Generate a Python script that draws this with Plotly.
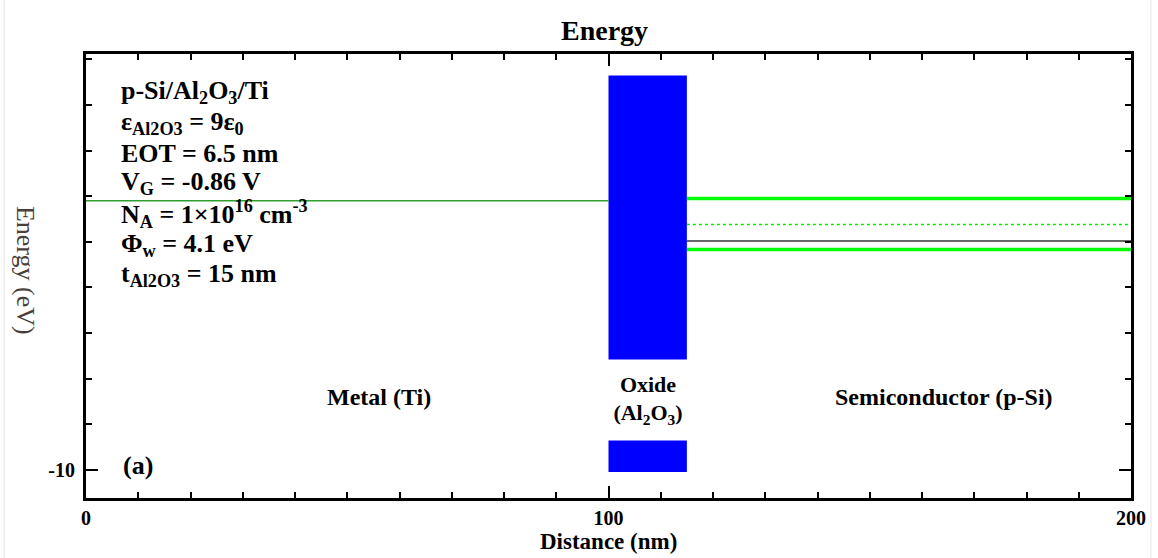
import plotly.graph_objects as go

# Figure and plot-area geometry (pixels)
W, H = 1158, 558
L, R, T, B = 86, 1133, 54, 498

X_RANGE = [0, 200]
Y_RANGE = [-10.62, -0.88]

# Device layers along the distance axis (nm)
metal_x = [0, 100]
oxide_x = [100, 115]
semi_x = [115, 200]

# Energy levels (eV)
metal_ef = -4.1
oxide_ec = -1.35
oxide_ev = -10.05
si_ec = -4.05
si_ei = -4.62
si_ef = -4.98
si_ev = -5.17

# Parameter block text
info_lines = [
    "p-Si/Al<sub>2</sub>O<sub>3</sub>/Ti",
    "ε<sub>Al2O3</sub> = 9ε<sub>0</sub>",
    "EOT = 6.5 nm",
    "V<sub>G</sub> = -0.86 V",
    "N<sub>A</sub> = 1×10<sup>16</sup> cm<sup>-3</sup>",
    "Φ<sub>w</sub> = 4.1 eV",
    "t<sub>Al2O3</sub> = 15 nm",
]

SERIF = "Liberation Serif, Times New Roman, serif"


def px(xp):
    return (xp - L) / (R - L)


def py(yp):
    return (B - yp) / (B - T)


fig = go.Figure()

# Oxide band (conduction to valence band edge)
fig.add_trace(go.Scatter(
    x=[oxide_x[0], oxide_x[1], oxide_x[1], oxide_x[0], oxide_x[0]],
    y=[oxide_ec, oxide_ec, oxide_ev, oxide_ev, oxide_ec],
    mode="lines", fill="toself", fillcolor="#0000ff",
    line=dict(width=0, color="#0000ff"), hoverinfo="skip",
))

# Metal Fermi level
fig.add_trace(go.Scatter(
    x=metal_x, y=[metal_ef, metal_ef], mode="lines",
    line=dict(color="#2e9e2e", width=1.5),
))

# Semiconductor Fermi level
fig.add_trace(go.Scatter(
    x=semi_x, y=[si_ef, si_ef], mode="lines",
    line=dict(color="#333333", width=1.5),
))
# Intrinsic level
fig.add_trace(go.Scatter(
    x=semi_x, y=[si_ei, si_ei], mode="lines",
    line=dict(color="#00ee00", width=1.5, dash="3px,3px"),
))
# Conduction and valence band edges
for lvl in (si_ec, si_ev):
    fig.add_trace(go.Scatter(
        x=semi_x, y=[lvl, lvl], mode="lines",
        line=dict(color="#00ff00", width=3.5),
    ))

annotations = []

# Parameter block
for i, txt in enumerate(info_lines):
    annotations.append(dict(
        text=txt, xref="paper", yref="paper",
        x=px(119), y=py(92 + 30.5 * i), xanchor="left", yanchor="middle",
        showarrow=False, font=dict(family=SERIF, size=26, color="black", weight="bold"),
    ))

# Region labels
label_font = dict(family=SERIF, size=24, color="black", weight="bold")
annotations.append(dict(text="Metal (Ti)", xref="paper", yref="paper",
                        x=px(380), y=py(397), xanchor="center", yanchor="middle",
                        showarrow=False, font=label_font))
annotations.append(dict(text="Semiconductor (p-Si)", xref="paper", yref="paper",
                        x=px(946), y=py(397), xanchor="center", yanchor="middle",
                        showarrow=False, font=label_font))
annotations.append(dict(text="Oxide<br>(Al<sub>2</sub>O<sub>3</sub>)",
                        xref="x", yref="paper",
                        x=sum(oxide_x) / 2, y=py(400), xanchor="center", yanchor="middle",
                        width=86, height=80, bgcolor="white", borderpad=0,
                        showarrow=False, font=dict(family=SERIF, size=22, color="black", weight="bold")))
annotations.append(dict(text="(a)", xref="paper", yref="paper",
                        x=px(121), y=py(465), xanchor="left", yanchor="middle",
                        showarrow=False, font=dict(family=SERIF, size=26, color="black", weight="bold")))

# Titles
annotations.append(dict(text="Energy", xref="paper", yref="paper",
                        x=px(605), y=py(30), xanchor="center", yanchor="middle",
                        showarrow=False, font=dict(family=SERIF, size=28, color="black", weight="bold")))
annotations.append(dict(text="Distance (nm)", xref="paper", yref="paper",
                        x=px(609), y=py(541), xanchor="center", yanchor="middle",
                        showarrow=False, font=dict(family=SERIF, size=23, color="black", weight="bold")))
annotations.append(dict(text="Energy (eV)", xref="paper", yref="paper",
                        x=px(26), y=py(270), xanchor="center", yanchor="middle", textangle=90,
                        showarrow=False, font=dict(family=SERIF, size=26, color="#4a3f3a")))

tick_font = dict(family=SERIF, size=20, color="black", weight="bold")

fig.update_layout(
    width=W, height=H,
    margin=dict(l=L, r=W - R, t=T, b=H - B),
    paper_bgcolor="white", plot_bgcolor="white",
    showlegend=False,
    annotations=annotations,
    shapes=[
        dict(type="line", xref="paper", yref="paper", x0=px(4), x1=px(4), y0=py(0), y1=py(H),
             line=dict(color="#e6e6e6", width=1)),
        dict(type="line", xref="paper", yref="paper", x0=px(1153), x1=px(1153), y0=py(0), y1=py(H),
             line=dict(color="#e6e6e6", width=1)),
    ],
    xaxis=dict(
        range=X_RANGE, showgrid=False, zeroline=False,
        showline=True, linecolor="black", linewidth=3, mirror="ticks",
        ticks="inside", tickvals=[0, 100, 200], ticktext=["0", "100", "200"],
        ticklen=12, tickwidth=2, tickcolor="black", tickfont=tick_font,
        ticklabelstandoff=0,
        minor=dict(tick0=0, dtick=10, ticks="inside", ticklen=6, tickwidth=1.5, tickcolor="black"),
    ),
    yaxis=dict(
        range=Y_RANGE, showgrid=False, zeroline=False,
        showline=True, linecolor="black", linewidth=3, mirror="ticks",
        ticks="inside", tickvals=[-10], ticktext=["-10"],
        ticklen=12, tickwidth=2, tickcolor="black", tickfont=tick_font,
        ticklabelstandoff=4,
        minor=dict(tick0=-10, dtick=1, ticks="inside", ticklen=6, tickwidth=1.5, tickcolor="black"),
    ),
)

fig.write_html("out.html")
